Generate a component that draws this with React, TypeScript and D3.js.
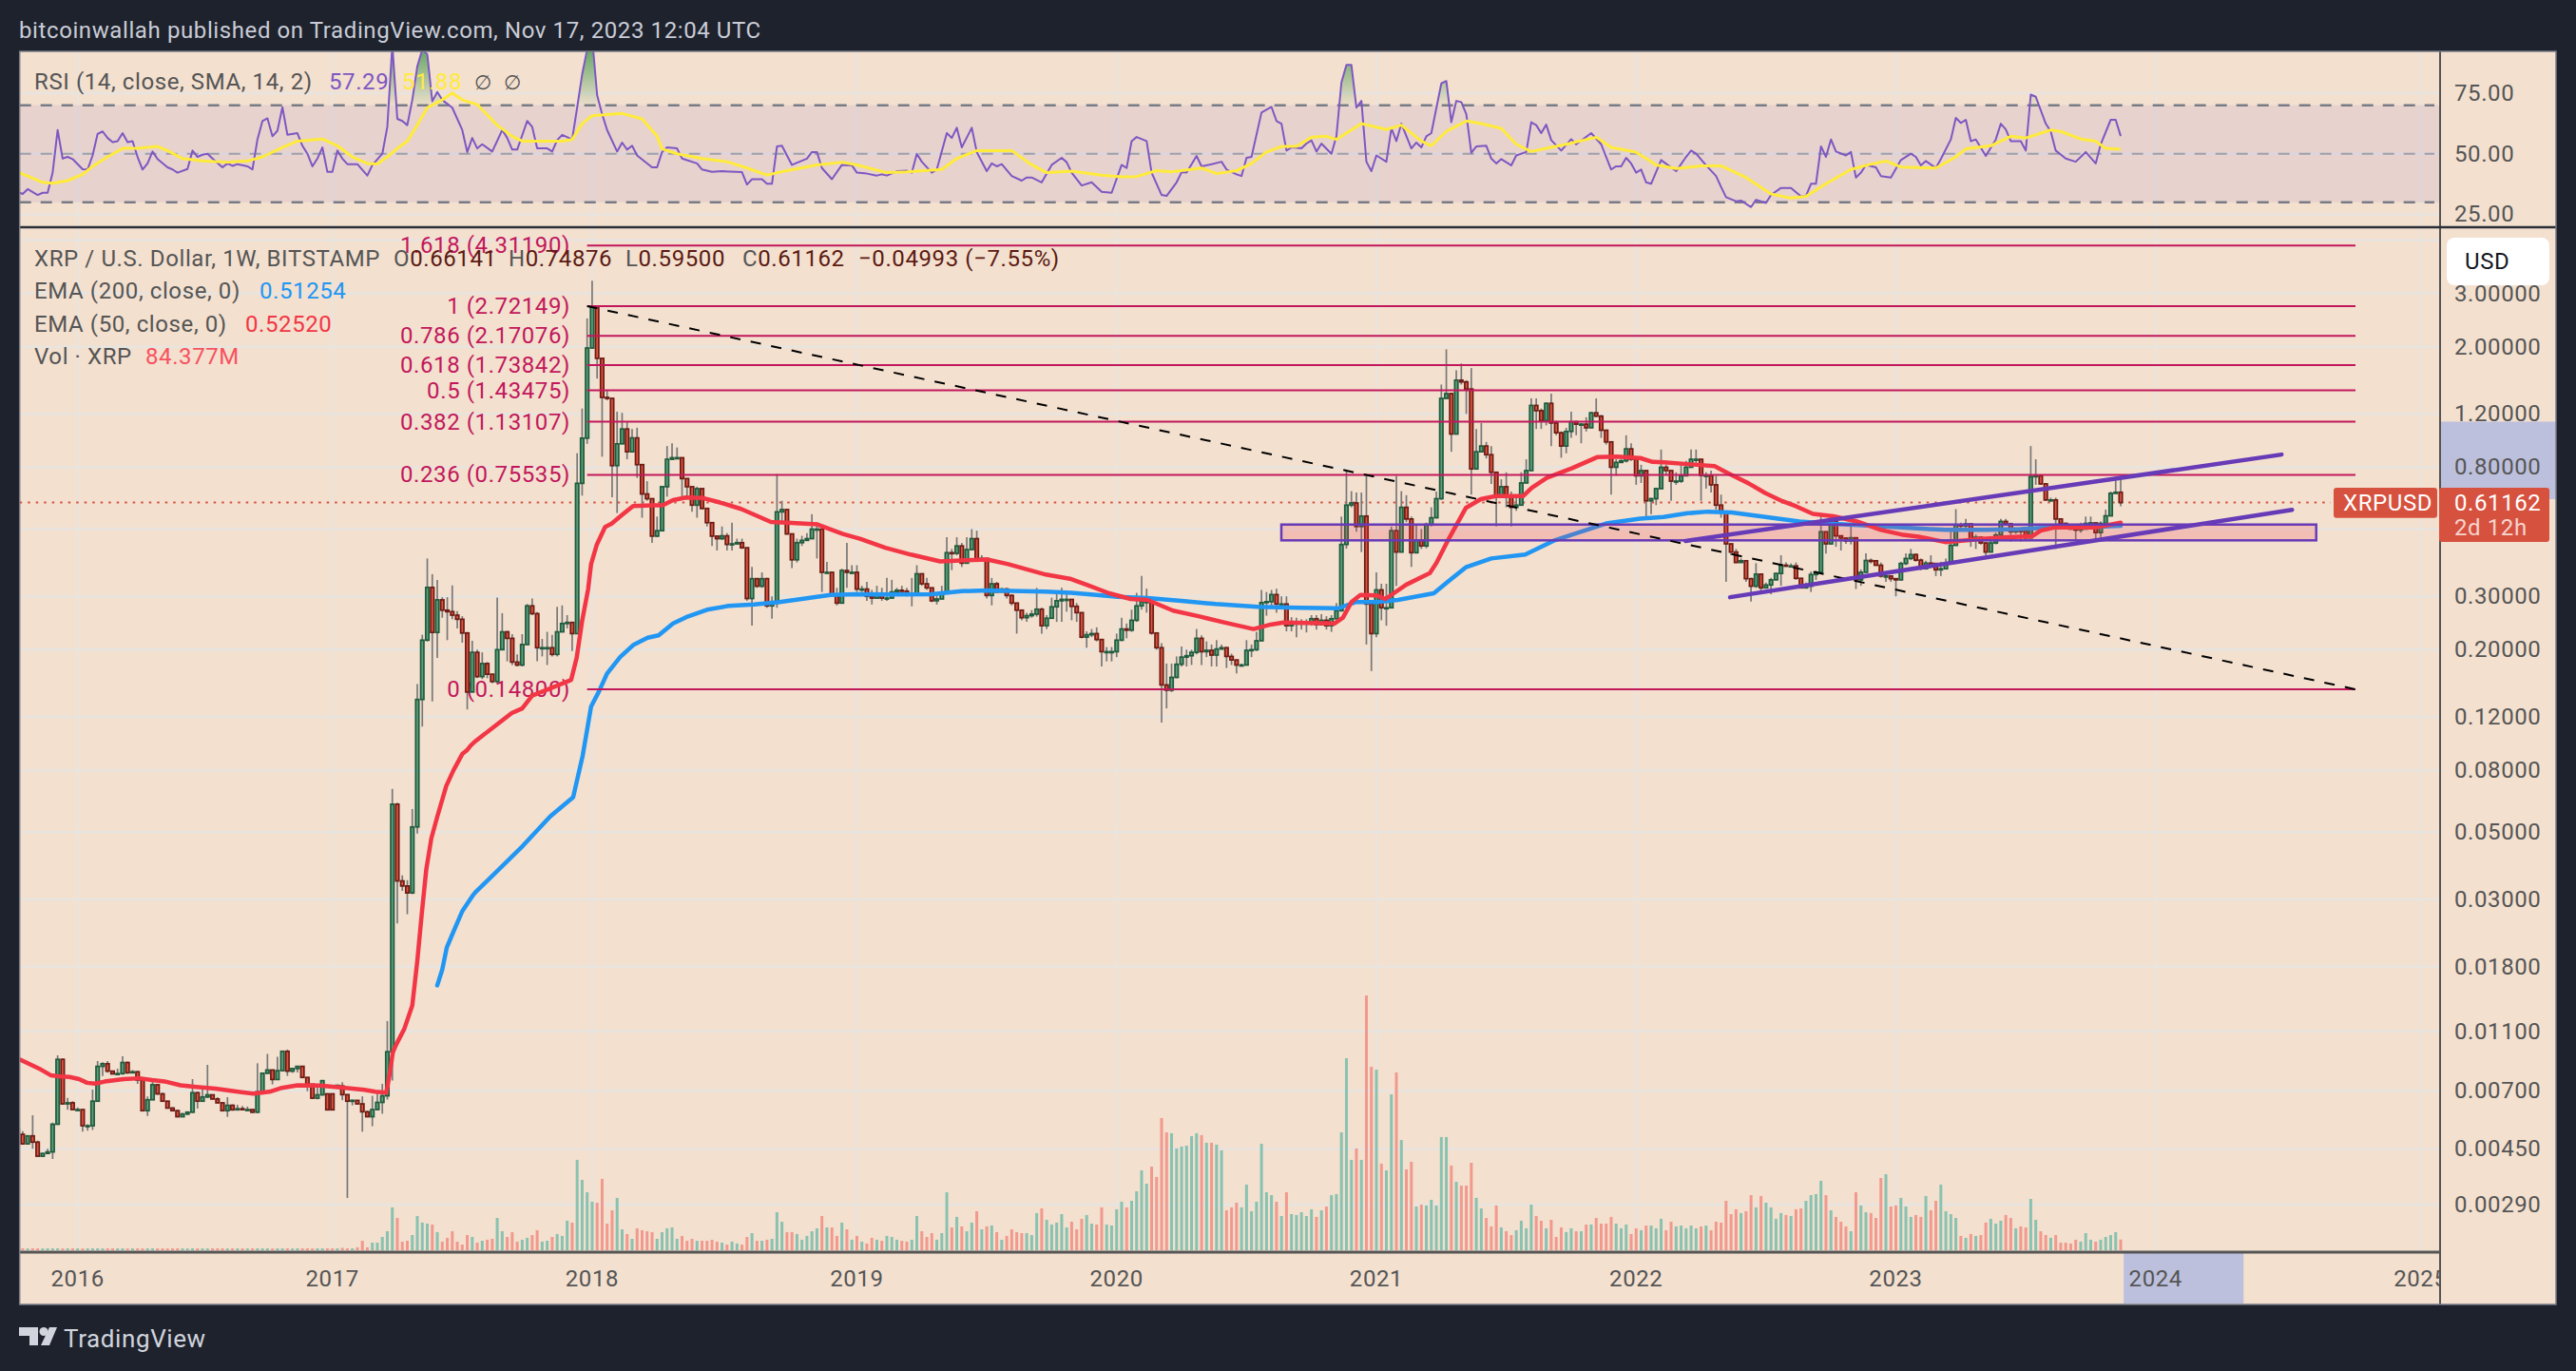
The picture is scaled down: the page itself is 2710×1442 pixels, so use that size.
import * as d3 from 'd3';

// weekly candles, first bar is the week of 2015-10-12. open = previous close unless listed in openGaps
const closes = [
  .00503,.00468,.00497,.00474,.00426,.00435,.00440,.00543,.00889,.00634,
  .00639,.00607,.00607,.00537,.00537,.00647,.00843,.00860,.00813,.00796,
  .00798,.00868,.00803,.00809,.00760,.00602,.00654,.00733,.00684,.00647,
  .00614,.00602,.00575,.00587,.00595,.00690,.00647,.00668,.00679,.00658,
  .00639,.00602,.00627,.00606,.00611,.00607,.00607,.00595,.00695,.00800,
  .00820,.00763,.00816,.00945,.00813,.00829,.00843,.00775,.00736,.00662,
  .00679,.00756,.00606,.00606,.00730,.00680,.00647,.00651,.00634,.00597,
  .00575,.00607,.00641,.00674,.00942,.0618,.0345,.0332,.0315,.0520,
  .137,.215,.321,.228,.292,.270,.267,.260,.252,.227,
  .145,.196,.163,.180,.166,.157,.200,.229,.218,.182,
  .178,.208,.279,.263,.203,.203,.203,.193,.229,.244,
  .246,.226,.708,.998,1.98,2.72,1.83,1.36,1.35,.81,
  .956,1.07,.90,1.00,.816,.653,.63,.474,.494,.69,
  .85,.86,.86,.734,.69,.60,.68,.585,.525,.474,
  .465,.475,.445,.447,.451,.434,.295,.343,.324,.343,
  .279,.285,.57,.58,.482,.396,.451,.459,.465,.50,
  .50,.36,.36,.305,.285,.365,.36,.36,.317,.317,
  .30,.296,.305,.296,.296,.31,.314,.312,.305,.305,
  .356,.33,.32,.29,.294,.307,.418,.416,.44,.386,
  .428,.465,.396,.40,.302,.33,.31,.317,.302,.285,
  .27,.255,.259,.262,.272,.24,.254,.277,.29,.293,
  .293,.278,.265,.22,.224,.226,.216,.197,.197,.197,
  .215,.234,.232,.25,.279,.288,.288,.227,.203,.153,
  .147,.162,.179,.189,.191,.196,.218,.197,.199,.192,
  .201,.203,.19,.185,.178,.178,.199,.20,.214,.286,
  .288,.304,.283,.283,.24,.243,.245,.245,.245,.253,
  .242,.25,.24,.253,.269,.445,.60,.61,.51,.552,
  .283,.226,.315,.275,.275,.494,.42,.59,.54,.418,
  .46,.44,.518,.545,.63,1.35,1.40,1.03,1.55,1.53,
  1.45,.79,.90,.94,.88,.77,.64,.69,.64,.59,
  .60,.71,.78,1.28,1.23,1.14,1.30,1.12,1.04,.94,
  1.05,1.13,1.11,1.11,1.08,1.21,1.18,1.06,.97,.80,
  .83,.84,.92,.85,.75,.78,.62,.63,.68,.80,
  .78,.72,.72,.75,.80,.85,.85,.752,.752,.70,
  .60,.567,.447,.42,.388,.393,.343,.324,.355,.32,
  .327,.34,.357,.38,.378,.378,.344,.32,.324,.354,
  .36,.49,.447,.528,.475,.467,.457,.468,.34,.36,
  .394,.393,.38,.35,.35,.343,.34,.385,.40,.412,
  .395,.37,.386,.385,.367,.37,.386,.442,.516,.512,
  .52,.463,.47,.45,.42,.45,.478,.53,.52,.49,
  .494,.493,.468,.745,.75,.705,.624,.624,.54,.522,
  .505,.50,.497,.50,.522,.524,.487,.522,.553,.656,
  .66141,.61162,
];
const highs = [
  .00533,.00515,.00499,.00581,.00479,.00436,.00451,.00550,.00917,.00895,
  .00663,.00647,.00617,.00606,.00543,.00707,.00878,.00870,.00878,.00817,
  .00829,.00910,.00874,.00819,.00813,.00765,.00671,.00765,.00738,.00690,
  .00649,.00618,.00606,.00592,.00600,.00765,.00695,.00707,.00853,.00677,
  .00667,.00639,.00667,.00632,.00630,.00624,.00621,.00606,.00863,.00805,
  .00927,.00823,.00906,.00950,.00958,.00833,.00843,.00836,.00775,.00738,
  .00721,.00760,.00687,.00687,.00733,.00747,.00683,.00655,.00650,.00671,
  .00602,.00674,.00700,.00738,.0119,.0694,.0625,.0360,.0347,.0596,
  .154,.224,.40,.355,.340,.298,.298,.326,.268,.258,
  .229,.214,.200,.196,.182,.166,.297,.264,.231,.225,
  .193,.225,.283,.295,.266,.217,.229,.224,.277,.280,
  .260,.246,.890,1.25,2.48,3.30,2.72,1.83,1.44,1.36,
  1.22,1.21,1.13,1.07,1.08,.816,.72,.63,.55,.69,
  .94,.96,.93,.86,.734,.69,.69,.68,.585,.525,
  .475,.51,.485,.525,.465,.465,.434,.375,.345,.36,
  .345,.30,.76,.62,.58,.482,.465,.475,.485,.56,
  .525,.50,.39,.36,.32,.37,.45,.38,.38,.325,
  .335,.315,.325,.32,.345,.34,.32,.325,.32,.345,
  .38,.356,.345,.32,.305,.325,.47,.43,.47,.45,
  .47,.50,.494,.41,.40,.345,.335,.32,.32,.305,
  .285,.27,.265,.27,.32,.275,.26,.297,.308,.32,
  .31,.29,.285,.265,.23,.234,.237,.217,.204,.204,
  .226,.255,.244,.271,.308,.35,.318,.283,.228,.21,
  .18,.18,.19,.205,.20,.20,.234,.223,.213,.208,
  .215,.208,.204,.194,.185,.18,.215,.208,.229,.315,
  .31,.315,.318,.30,.30,.256,.255,.252,.252,.26,
  .26,.262,.258,.26,.285,.55,.775,.667,.66,.66,
  .75,.28,.36,.33,.33,.51,.75,.667,.647,.55,
  .52,.50,.525,.59,.665,1.50,1.96,1.41,1.67,1.76,
  1.55,1.70,1.07,1.12,.97,.94,.75,.73,.77,.665,
  .635,.77,.85,1.35,1.35,1.25,1.31,1.40,1.14,1.05,
  1.08,1.22,1.14,1.12,1.17,1.22,1.35,1.19,1.06,.97,
  .85,.85,1.02,.96,.85,.815,.78,.635,.685,.915,
  .815,.78,.77,.83,.84,.915,.915,.848,.77,.78,
  .75,.65,.56,.447,.43,.40,.393,.345,.386,.355,
  .333,.345,.358,.41,.388,.385,.388,.344,.333,.362,
  .365,.557,.49,.533,.528,.475,.47,.51,.47,.368,
  .416,.40,.393,.388,.355,.35,.344,.39,.416,.43,
  .416,.40,.393,.41,.386,.39,.40,.494,.582,.525,
  .54,.52,.48,.47,.452,.465,.487,.54,.54,.525,
  .505,.505,.49,.94,.85,.75,.71,.635,.635,.54,
  .525,.51,.505,.525,.55,.55,.525,.53,.58,.665,
  .73,.74876,
];
const lows = [
  .00491,.00465,.00465,.00451,.00425,.00423,.00435,.00417,.00541,.00632,
  .00606,.00606,.00606,.00513,.00517,.00520,.00644,.00784,.00803,.00794,
  .00794,.00790,.00796,.00803,.00738,.00599,.00578,.00655,.00679,.00644,
  .00612,.00599,.00573,.00573,.00581,.00592,.00612,.00644,.00663,.00655,
  .00636,.00599,.00574,.00602,.00606,.00606,.00603,.00591,.00591,.00692,
  .00796,.00735,.00760,.00813,.00784,.00803,.00805,.00771,.00698,.00658,
  .00656,.00675,.00603,.00603,.00725,.00652,.00310,.00627,.00632,.00513,
  .00573,.00535,.00606,.00588,.00655,.00757,.0250,.0320,.0268,.0312,
  .0494,.1115,.213,.135,.188,.255,.215,.252,.235,.211,
  .127,.145,.161,.160,.161,.155,.155,.200,.183,.178,
  .176,.176,.207,.260,.183,.190,.178,.190,.190,.229,
  .235,.198,.226,.645,.956,1.97,1.57,.867,1.33,.637,
  .565,.956,.85,.90,.738,.545,.62,.45,.47,.494,
  .64,.85,.85,.64,.64,.57,.545,.58,.51,.44,
  .425,.46,.425,.425,.445,.43,.29,.24,.32,.32,
  .275,.253,.275,.53,.48,.372,.388,.44,.46,.465,
  .40,.31,.358,.30,.28,.285,.32,.355,.31,.31,
  .29,.282,.295,.29,.29,.295,.31,.308,.30,.278,
  .305,.325,.315,.287,.282,.295,.305,.366,.41,.375,
  .39,.425,.39,.393,.295,.28,.308,.31,.295,.28,
  .226,.25,.247,.255,.257,.226,.234,.255,.247,.247,
  .267,.25,.247,.218,.203,.22,.213,.176,.183,.183,
  .189,.213,.218,.229,.247,.271,.265,.224,.20,.115,
  .128,.145,.161,.176,.176,.178,.193,.178,.189,.176,
  .176,.20,.174,.178,.167,.176,.178,.189,.198,.214,
  .259,.278,.265,.279,.23,.23,.22,.233,.228,.24,
  .233,.243,.233,.229,.253,.267,.431,.59,.49,.42,
  .208,.17,.22,.25,.24,.275,.325,.42,.527,.375,
  .415,.43,.432,.51,.545,.625,1.35,.90,1.03,1.50,
  1.20,.65,.79,.90,.855,.705,.51,.64,.59,.51,
  .575,.60,.71,.78,1.07,1.07,1.10,.94,1.02,.86,
  .89,1.00,1.02,.96,1.05,1.08,1.17,1.00,.95,.65,
  .75,.83,.83,.84,.70,.71,.55,.56,.60,.68,
  .752,.62,.70,.71,.752,.81,.81,.62,.68,.66,
  .58,.545,.335,.41,.386,.388,.335,.288,.32,.306,
  .32,.305,.34,.325,.375,.375,.34,.32,.32,.31,
  .34,.36,.415,.445,.437,.425,.447,.445,.317,.325,
  .36,.385,.378,.346,.335,.335,.30,.34,.38,.395,
  .39,.366,.37,.378,.35,.35,.37,.385,.44,.505,
  .495,.437,.43,.445,.41,.42,.445,.475,.515,.455,
  .482,.455,.463,.465,.70,.70,.62,.618,.43,.518,
  .50,.50,.46,.487,.50,.52,.455,.47,.52,.56,
  .655,.595,
];
const openGaps: Record<number, number> = { 0: .00527, 62: .00684, 63: .00684, 64: .00725, 65: .00726 };

const volumes = [
  15,15,14,15,15,14,15,15,15,14,15,15,15,14,15,15,15,14,15,15,
  15,15,14,15,15,14,15,15,15,15,14,15,15,15,14,15,15,15,14,15,
  15,15,14,15,15,15,14,15,15,15,15,14,15,15,15,14,15,15,15,14,
  15,15,15,15,15,19,15,15,23,75,23,60,60,105,150,338,255,68,75,120,
  270,218,210,203,143,68,98,150,68,45,120,105,60,75,83,90,255,150,105,143,
  68,83,98,120,158,68,75,105,128,113,233,218,713,555,458,383,375,563,210,315,
  413,165,128,90,173,158,150,143,90,143,173,180,90,113,75,90,75,75,75,83,
  68,60,45,68,53,45,105,135,75,75,83,90,300,225,143,143,128,83,113,150,
  173,270,180,180,113,218,165,83,113,68,53,98,83,75,113,105,83,75,68,83,
  270,150,105,135,83,135,458,180,263,188,150,218,308,165,188,195,143,83,113,165,
  143,135,135,120,293,330,240,203,218,285,180,225,165,248,278,210,203,338,203,195,
  323,383,338,390,465,630,525,660,578,1043,930,923,803,818,825,900,923,908,848,848,
  833,788,315,338,375,338,518,308,383,840,458,435,383,270,458,285,278,300,270,323,
  263,315,345,435,443,930,1515,713,803,713,2010,1448,1425,683,630,1230,1403,870,638,698,
  345,360,353,398,353,893,893,668,540,510,510,690,413,330,255,188,353,180,150,120,
  158,233,173,360,270,233,173,240,105,180,143,173,150,150,203,203,255,210,210,263,
  210,173,203,128,173,158,195,195,173,248,158,225,188,195,173,195,173,188,195,158,
  225,218,390,285,323,293,308,435,338,428,375,338,248,293,278,270,323,330,390,435,
  443,548,435,315,263,225,188,150,458,353,300,293,255,570,600,345,353,413,345,263,
  278,263,428,315,390,518,308,285,255,113,98,128,113,120,218,248,210,233,278,255,
  173,188,180,405,240,150,120,98,120,60,60,53,83,68,135,83,68,83,105,120,
  143,84.4,
];

const ema50Bars = [0,2,4.7,6.6,8.2,10.4,12.3,13.9,15.5,17.4,21.2,24.4,26.9,29.4,32.6,35.8,39.6,43.4,47.2,50.4,52.9,56,60.5,65.6,69.4,71.6,73.8,74.5,75.1,75.8,77.4,79,80,80.9,81.8,82.8,84,85.8,87.2,89,89.9,90.7,91.6,98.9,101,103,106.6,110.8,111.9,113,114.2,114.8,115.9,117.6,118.9,121,123.2,127,129.1,131.2,133.8,137.2,140.6,144.8,150.8,155,160.1,165.2,168.6,173.7,178.8,184.7,189.8,194.1,198.3,205.8,210.9,214.3,218.5,222.8,226.2,231.3,236.4,241.5,247.4,250.8,253.4,263.6,265.3,267,268.8,272.1,273.8,278,282.7,284,286.5,289.9,292.9,295.9,301.4,303.1,306.1,311.2,316.3,320.1,324.8,327.3,329.5,334.9,339.7,342.4,346.5,349.9,353.3,356,359.4,363.5,368.2,373,377.1,380.5,385.9,388.6,394.1,397.5,403.3,405,407.7,415.8,421];
const ema50Values = [.00895,.00863,.00822,.00788,.00782,.00778,.00765,.00744,.00739,.00751,.00765,.00770,.00760,.00752,.00730,.00721,.00712,.00698,.00685,.00695,.00716,.00730,.00729,.00716,.00705,.00695,.00690,.00802,.00937,.00997,.01121,.0134,.01878,.02696,.0377,.0476,.0562,.0710,.0797,.0905,.0930,.0966,.0997,.1235,.128,.141,.149,.159,.188,.249,.317,.384,.443,.508,.521,.557,.596,.599,.599,.623,.636,.633,.612,.583,.528,.524,.518,.482,.465,.434,.412,.391,.395,.397,.383,.354,.342,.326,.307,.294,.292,.269,.258,.246,.234,.242,.246,.244,.255,.287,.303,.302,.294,.328,.358,.386,.465,.587,.628,.643,.643,.684,.738,.795,.865,.868,.858,.833,.83,.818,.807,.765,.708,.657,.618,.595,.561,.551,.530,.497,.480,.472,.453,.457,.465,.469,.474,.494,.506,.506,.5252];
const ema200Bars = [84,85,85.9,87.2,89,90,91,91.6,101.1,106.6,111.2,113.1,114.8,116.4,118,120.6,123.2,126.1,128.3,131.2,133.8,138,142.3,147.4,152.5,157.6,162.7,167.8,174.6,183,189,194.1,205.8,210.9,216,220.2,226.2,233,239.8,248.3,256.8,264.4,267.8,272.1,276.3,283.5,286.5,289.9,295,301.8,307.8,318,324.8,329.5,334.3,338.3,343.1,349.9,356.7,363.5,370.3,377.1,385.9,394.1,400.9,407.7,414.5,421];
const ema200Values = [.0156,.0176,.0208,.0234,.0274,.0290,.0307,.0316,.0450,.0563,.0652,.0893,.130,.146,.167,.189,.207,.219,.223,.244,.256,.271,.279,.282,.287,.295,.303,.305,.304,.305,.312,.314,.311,.308,.303,.299,.296,.290,.283,.277,.275,.274,.287,.287,.292,.307,.337,.374,.400,.412,.460,.522,.541,.548,.564,.571,.567,.548,.530,.520,.514,.506,.497,.497,.500,.507,.507,.51254];

const rsiBars = [0,1,2,4,5,6,7,8,9,10,11,13,14,15,16,17,18,19,20,21,22,23,24,25,26,27,28,30,31,32,34,35,36,37,38,39,41,42,43,44,46,47,48,49,50,51,52,53,54,56,57,58,59,60,61,62,63,64,65,66,68,70,71,73,74,75,76,77,78,79,80,81,82,83,84,85,87,89,90,91,92,93,95,97,98,99,100,102,103,104,106,107,108,109,111,112,113,114,115,116,117,118,120,121,122,123,124,127,128,129,130,132,133,136,137,139,141,145,146,147,149,150,151,152,153,154,155,158,159,160,161,163,165,167,168,170,172,173,174,176,178,179,180,181,183,184,186,187,188,189,191,192,194,195,196,197,199,201,202,203,205,207,209,210,211,213,215,217,219,221,222,223,224,226,227,229,230,232,233,234,236,237,239,241,242,244,245,246,247,249,251,252,253,254,255,257,258,259,260,261,263,264,265,266,267,268,269,270,271,272,274,275,276,277,279,280,281,282,283,285,286,287,288,289,290,291,292,294,295,296,297,299,300,302,303,304,305,306,307,309,311,312,315,317,319,320,321,322,323,324,325,326,327,329,332,334,335,336,338,340,341,342,344,345,347,348,350,351,353,355,357,358,359,360,361,362,363,364,366,367,368,369,370,372,373,375,377,379,380,381,382,384,385,387,388,389,390,391,392,394,396,397,398,399,401,402,403,404,406,407,408,410,412,414,416,417,419,420,421];
const rsiValues = [34.3,33.4,35.4,33,33.9,33.9,42.2,59.8,48,48.7,47.8,43.6,43.5,49.3,58.2,59.2,56.5,54.8,55.2,58.5,54.8,55.2,48.7,43.5,46,50.9,47.8,44.4,43.5,42.2,43.7,51.3,48.7,49.6,50,48,44.4,46,45,45.7,44.8,43.5,55.9,63.5,64.6,57.2,59.5,69.2,57.8,58.5,53.3,50,44.8,48,52.6,42.5,42.5,51.3,48,45.7,45.7,41,45.3,50,61.1,95,64.4,63.5,61.8,72.2,86,93,91,71.6,75.5,72.2,69,59.8,50.7,56.5,52.2,53.9,50.9,59.8,56.5,51.7,51.7,63.5,61.1,52.2,52.2,50.9,55.6,57.8,55.9,69,82.7,93,98,74.2,66.3,59.8,50.9,54.6,51.7,53.3,49.3,44.4,44.4,50.7,52.6,52.2,48,46,43.5,42.5,42.8,42.4,37.3,39.5,39.5,37.6,37.6,53,53.3,49.3,45.4,48,50.7,50.7,44.1,39.5,45.4,45.2,42.2,41.8,41,41.5,41,42.8,43,42.2,50,46.7,42.2,43.5,58.5,56.5,60.7,52.6,60.7,50.7,42.8,46,44.8,45.7,40.8,38.9,40.2,40.2,38.2,45.4,48.3,46.5,42.2,36.9,38.2,34.3,33.9,45.4,44.1,55.2,56.9,55.2,42.2,33,32.6,38.2,42.4,42.2,49.1,44.8,45.7,46.7,43.5,41.5,40.8,48.3,48.7,67,69.3,63.5,62.4,51.3,52.6,52.2,54.2,55.5,50.9,54.2,50,57.2,79.4,86.6,86.6,69,71.8,46.7,42.8,49.3,46.7,60.5,55.2,62.4,52.2,54.6,52.6,57.2,58.5,79,80,63,71.8,71.3,66.3,50.4,53,53.3,48,46,47.8,45.2,49.3,50.7,63,61.8,58.5,62,55.6,51.3,56,53.9,58.5,53.9,43.5,44.8,44.8,48.3,46,42.2,43.5,38.2,37.6,47.4,42.8,48.7,51.3,50,45.2,40.8,36.3,32.1,30.4,30.7,28,31,29.7,33,35.9,35.9,32.4,32.6,37.6,37.6,53,48.7,55.9,50.9,49.3,50.7,40.2,42.2,45.4,44.4,40.8,40.2,47.4,50,48.7,45.2,47,44.1,47.8,55.9,64.8,62.7,64,55.2,55.9,49.1,55.9,62.4,60,55.2,55.2,51.3,74.4,73.5,62.4,59.2,51.3,48,46.7,50.7,46,53.9,64,64,57.29];
const rsiMaBars = [0,2,5,7,10,13,15,18,21,24,28,30,33,37,42,46,49,53,56,61,64,67,70,72,74,76,78,80,82,85,87,89,92,96,99,101,106,109,111,113,115,121,125,128,129,132,137,142,146,150,154,160,165,168,174,178,185,188,192,199,203,206,211,217,221,224,228,231,237,240,244,247,250,253,256,259,262,264,266,269,274,277,281,283,286,290,293,297,300,303,306,310,316,319,324,328,332,337,341,346,351,355,358,362,367,371,374,377,384,388,390,395,399,402,407,409,413,416,418,421];
const rsiMaValues = [42.4,40.8,38.2,37.8,38.9,41.5,44.8,48.7,52.2,52.2,53,51.3,48,47,46.5,47,48.7,52.6,55.2,56.1,53.3,48.7,46,45.8,48.7,52.2,55.2,61.8,69,72.2,75.1,72.2,70.3,61.8,57.2,55.2,55.2,55.2,55.9,62.4,65.7,66.6,64.4,57.2,52,50,48,46.7,44.1,41.2,43,45.4,46.5,45.4,42.2,42.5,43.5,48,51.3,51.3,45.4,42.2,42.8,41.2,40.5,40.6,43,42.5,44.1,41.8,43,46,50.7,53,53,56.8,57.2,55.9,58.5,62.4,60,61.8,55.2,53.3,59.2,63.5,62.4,60.5,53.9,50.9,52.2,53.9,56.8,52.6,50.7,45.4,43.9,45,45,40.2,33.4,31.7,32.4,37.6,43.5,45.7,47,44.5,44.1,48.7,52,53.3,57.2,56.5,59.8,59.2,56.1,55.2,52.2,51.88];

const fibRatios = ['1.618', '1', '0.786', '0.618', '0.5', '0.382', '0.236', '0'];
const fibPrices = [4.3119, 2.72149, 2.17076, 1.73842, 1.43475, 1.13107, 0.75535, 0.148];
// 4.5 and 0.5 have a grid line, their labels sit behind the USD button and the price tag
const gridPrices = [4.5, 0.5];
const priceTicks = [3, 2, 1.2, 0.8, 0.3, 0.2, 0.12, 0.08, 0.05, 0.03, 0.018, 0.011, 0.007, 0.0045, 0.00295];
const priceTickLabels = ['3.00000', '2.00000', '1.20000', '0.80000', '0.30000', '0.20000', '0.12000', '0.08000', '0.05000', '0.03000', '0.01800', '0.01100', '0.00700', '0.00450', '0.00290'];
const rsiTicks = [75, 50, 25];
const yearLabels = ['2016', '2017', '2018', '2019', '2020', '2021', '2022', '2023', '2024', '2025'];
const yearBars = [12, 63, 115, 168, 220, 272, 324, 376, 428, 481];

const FONT = 'Roboto, sans-serif';
const BG = '#f3e0cf';
const GRID = '#e8e4df';
const UP_FILL = '#5f9f7c';
const UP_EDGE = '#1f5b3d';
const DOWN_FILL = '#dd5540';
const DOWN_EDGE = '#6d1b14';
const FIB = '#c2185b';
const PURPLE = '#673ab7';
const LAST = '#d6523f';

const left = 20.7;
const right = 2689;
const axisX = 2567;

const x = d3.scaleLinear().domain([0, 421]).range([18.6, 2231]);
const yPrice = d3.scaleLog().domain([2.72149, 0.148]).range([322, 725]);
const yRsi = d3.scaleLinear().domain([70, 30]).range([110.7, 212.7]);
const yVol = d3.scaleLinear().domain([0, 2010]).range([1315, 1047]);

const priceLine = d3.line<number>().x((d) => x(d)).curve(d3.curveLinear);
const pathFor = (bars: number[], values: number[]) =>
  priceLine.y((_, i) => yPrice(values[i]))(bars) as string;
const rsiPath = (bars: number[], values: number[]) =>
  priceLine.y((_, i) => yRsi(values[i]))(bars) as string;
const rsiArea = d3.area<number>()
  .x((d) => x(d))
  .y0(yRsi(70))
  .y1((_, i) => yRsi(rsiValues[i]))(rsiBars) as string;

const opens = closes.map((c, i) => openGaps[i] ?? closes[i - 1]);

const Label = ({ x: lx, y, fill = '#555', size = 24, anchor = 'start', spacing = 0.6, children }: any) => (
  <text x={lx} y={y} fill={fill} fontSize={size} fontFamily={FONT} textAnchor={anchor} dominantBaseline="central" letterSpacing={spacing}>
    {children}
  </text>
);

export default function App() {
  const fibStart = 114;
  const fibEnd = 468;

  return (
    <svg width={2710} height={1442} style={{ position: 'fixed', left: 0, top: 0, display: 'block' }}>
      <defs>
        <clipPath id="rsi-clip"><rect x={left} y={54} width={axisX - left} height={184} /></clipPath>
        <clipPath id="rsi-over"><rect x={left} y={54} width={axisX - left} height={yRsi(70) - 54} /></clipPath>
        <clipPath id="main-clip"><rect x={left} y={240} width={axisX - left} height={1076} /></clipPath>
        <linearGradient id="over-grad" x1="0" y1="54" x2="0" y2={yRsi(70)} gradientUnits="userSpaceOnUse">
          <stop offset="0%" stopColor="#6aa869" />
          <stop offset="100%" stopColor="#6aa869" stopOpacity={0.05} />
        </linearGradient>
      </defs>

      <rect width={2710} height={1442} fill="#1e222d" />
      <rect x={left} y={54} width={right - left} height={1318} fill={BG} />

      <Label x={20} y={32} fill="#c9ccd6">bitcoinwallah published on TradingView.com, Nov 17, 2023 12:04 UTC</Label>

      {/* grid */}
      {yearBars.map((b) => (
        <line key={b} x1={x(b)} x2={x(b)} y1={54} y2={1316} stroke={GRID} strokeWidth={2} />
      ))}
      {[...priceTicks, ...gridPrices].map((t) => (
        <line key={t} x1={left} x2={axisX} y1={yPrice(t)} y2={yPrice(t)} stroke={GRID} strokeWidth={2.5} />
      ))}
      {rsiTicks.map((t) => (
        <line key={t} x1={left} x2={axisX} y1={yRsi(t)} y2={yRsi(t)} stroke={GRID} strokeWidth={2.5} />
      ))}

      {/* RSI pane */}
      <rect x={left} y={yRsi(70)} width={axisX - left} height={yRsi(30) - yRsi(70)} fill="#7e57c2" opacity={0.1} />
      {[70, 50, 30].map((t) => (
        <line key={t} x1={left} x2={axisX - 6} y1={yRsi(t)} y2={yRsi(t)} stroke="#787b86"
          strokeWidth={t === 50 ? 2 : 2.5} strokeDasharray="12 10" opacity={t === 50 ? 0.6 : 1} />
      ))}
      <g clipPath="url(#rsi-clip)">
        <path d={rsiArea} fill="url(#over-grad)" clipPath="url(#rsi-over)" />
        <path d={rsiPath(rsiBars, rsiValues)} fill="none" stroke="#7e57c2" strokeWidth={2} strokeLinejoin="round" />
        <path d={rsiPath(rsiMaBars, rsiMaValues)} fill="none" stroke="#ffeb3b" strokeWidth={3} strokeLinejoin="round" />
      </g>
      <Label x={36} y={86}>RSI (14, close, SMA, 14, 2)</Label>
      <Label x={346} y={86} fill="#7e57c2">57.29</Label>
      <Label x={423} y={86} fill="#ffeb3b">51.88</Label>
      <Label x={499} y={87} fill="#555" size={21}>∅</Label>
      <Label x={530} y={87} fill="#555" size={21}>∅</Label>

      {/* main pane */}
      {fibPrices.map((p, i) => (
        <Label key={p} x={600} y={yPrice(p)} fill={FIB} anchor="end">
          {`${fibRatios[i]} (${p.toFixed(5)})`}
        </Label>
      ))}
      <g clipPath="url(#main-clip)">
        <line x1={left} x2={2452} y1={yPrice(0.61162)} y2={yPrice(0.61162)} stroke={LAST} strokeWidth={2} strokeDasharray="2.5 6" />

        {volumes.map((v, i) => (
          <rect key={i} x={x(i) - 1.5} y={yVol(v)} width={3} height={yVol(0) - yVol(v)}
            fill={closes[i] < opens[i] ? '#f2998e' : '#89c2b0'} />
        ))}

        {closes.map((c, i) => {
          const up = c >= opens[i];
          const top = yPrice(Math.max(c, opens[i]));
          const bottom = yPrice(Math.min(c, opens[i]));
          return (
            <g key={i}>
              <line x1={x(i)} x2={x(i)} y1={yPrice(highs[i])} y2={yPrice(lows[i])} stroke="#787878" strokeWidth={1.7} />
              <rect x={x(i) - 1.7} y={top} width={3.4} height={Math.max(bottom - top, 1)}
                fill={up ? UP_FILL : DOWN_FILL} stroke={up ? UP_EDGE : DOWN_EDGE} strokeWidth={1.7} />
            </g>
          );
        })}

        <path d={pathFor(ema200Bars, ema200Values)} fill="none" stroke="#2196f3" strokeWidth={4.5} strokeLinejoin="round" strokeLinecap="round" />
        <path d={pathFor(ema50Bars, ema50Values)} fill="none" stroke="#f23645" strokeWidth={4.5} strokeLinejoin="round" strokeLinecap="round" />

        {/* drawings */}
        <rect x={1348} y={yPrice(0.5176)} width={2436.7 - 1348} height={yPrice(0.459) - yPrice(0.5176)}
          fill="#f23645" fillOpacity={0.2} stroke={PURPLE} strokeWidth={2.5} />
        {fibPrices.map((p) => (
          <line key={p} x1={x(fibStart)} x2={x(fibEnd)} y1={yPrice(p)} y2={yPrice(p)} stroke={FIB} strokeWidth={2} />
        ))}
        <line x1={x(fibStart)} x2={x(fibEnd)} y1={yPrice(2.72149)} y2={yPrice(0.148)} stroke="#000" strokeWidth={2} strokeDasharray="11 11" />
        <line x1={x(333.9)} x2={x(453.2)} y1={yPrice(0.457)} y2={yPrice(0.881)} stroke={PURPLE} strokeWidth={4.5} strokeLinecap="round" />
        <line x1={x(342.8)} x2={x(455.3)} y1={yPrice(0.298)} y2={yPrice(0.579)} stroke={PURPLE} strokeWidth={4.5} strokeLinecap="round" />
      </g>

      <Label x={36} y={272}>XRP / U.S. Dollar, 1W, BITSTAMP</Label>
      <Label x={414} y={272}>O<tspan fill="#5c1a12">0.66141</tspan></Label>
      <Label x={535} y={272}>H<tspan fill="#5c1a12">0.74876</tspan></Label>
      <Label x={658} y={272}>L<tspan fill="#5c1a12">0.59500</tspan></Label>
      <Label x={781} y={272}>C<tspan fill="#5c1a12">0.61162</tspan></Label>
      <Label x={903} y={272} fill="#5c1a12">−0.04993 (−7.55%)</Label>
      <Label x={36} y={306}>EMA (200, close, 0)</Label>
      <Label x={273} y={306} fill="#2196f3">0.51254</Label>
      <Label x={36} y={341}>EMA (50, close, 0)</Label>
      <Label x={258} y={341} fill="#f23645">0.52520</Label>
      <Label x={36} y={375}>Vol · XRP</Label>
      <Label x={153} y={375} fill="#f7525f">84.377M</Label>

      {/* time axis */}
      <rect x={x(421.6)} y={1318} width={x(445.6) - x(421.6)} height={53} fill="#bdc0dc" />
      <line x1={left} x2={right} y1={1317} y2={1317} stroke="#555" strokeWidth={3} />
      {yearLabels.map((label, i) => (
        <Label key={label} x={x(yearBars[i])} y={1345} anchor="middle">{label}</Label>
      ))}

      {/* price axis */}
      <rect x={axisX} y={54} width={right - axisX} height={1318} fill={BG} />
      <rect x={axisX + 1} y={443.5} width={right - axisX - 1} height={81.5} fill="#bdc0dc" />
      {rsiTicks.map((t) => (
        <Label key={t} x={2582} y={yRsi(t)}>{t.toFixed(2)}</Label>
      ))}
      {priceTicks.map((t, i) => (
        <Label key={t} x={2582} y={yPrice(t)}>{priceTickLabels[i]}</Label>
      ))}
      <line x1={axisX} x2={axisX} y1={54} y2={1372} stroke="#555" strokeWidth={2} />
      <line x1={left} x2={right} y1={239} y2={239} stroke="#2a2e39" strokeWidth={2.5} />

      <rect x={2574} y={250} width={108} height={50} rx={8} fill="#fff" />
      <Label x={2593} y={275} fill="#131722">USD</Label>

      <rect x={2455} y={513} width={109} height={31.7} rx={3} fill={LAST} />
      <Label x={2465} y={529} fill="#fff">XRPUSD</Label>
      <rect x={2566} y={513} width={116} height={57} rx={3} fill={LAST} />
      <Label x={2582} y={529} fill="#fff">0.61162</Label>
      <Label x={2582} y={555} fill="#f6d5cf">2d 12h</Label>

      <rect x={left} y={54} width={right - left} height={1318} fill="none" stroke="#787b86" strokeWidth={1.5} />

      {/* logo */}
      <g fill="#d1d4dc">
        <path d="M20 1396h20v19h-9v-10h-11z" />
        <circle cx={46} cy={1400.5} r={4.5} />
        <path d="M52 1396h8l-8 19h-9z" />
      </g>
      <Label x={67} y={1408} fill="#d1d4dc" size={26}>TradingView</Label>
    </svg>
  );
}
